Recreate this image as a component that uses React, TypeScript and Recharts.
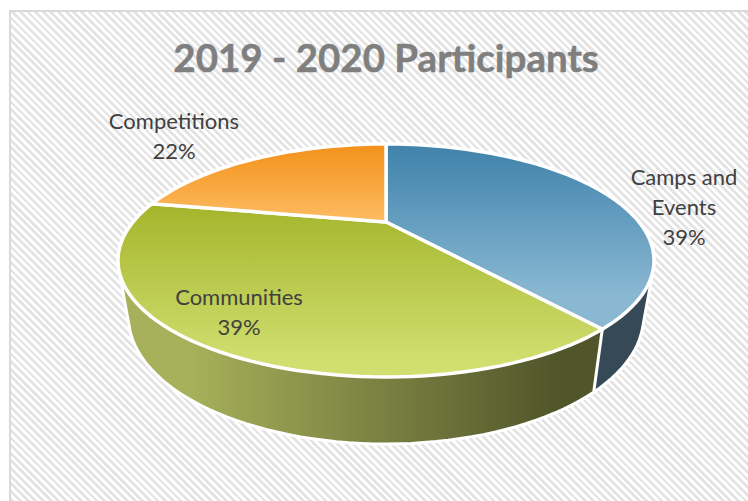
import { PieChart, Pie } from 'recharts';

const NAMES = ['Camps and Events', 'Communities', 'Competitions'];
const VALUES = [39, 39, 22];
const TOP_COLORS = [
    ['#3F82AB', '#8AB8D3'],
    ['#A4B52B', '#D1DF70'],
    ['#F3911A', '#FDBC62'],
];
const TOP_STOP_END = ['82%', '92%', '100%'];
const WALL_FILLS = ['#354957', 'url(#wallOlive)', '#8a5a14'];

// label lines and their anchor, one entry per slice
const LABEL_LINES = [['Camps and', 'Events', '39%'], ['Communities', '39%'], ['Competitions', '22%']];
const LABEL_ANCHORS = [[684, 185], [239, 305], [174, 129]];

const pieData = NAMES.map((name, i) => ({ name, value: VALUES[i], wall: WALL_FILLS[i], top: `url(#top${i})` }));

const CX = 386;
const TOP_FACE = { y: 222, a: 103.8, b: 253 };
const BOTTOM_FACE = { y: 275.5, a: 112.9, b: 243 };
const TILT = 0.33;

// perspective projection of a point on the round pie, theta is clockwise from 12 o'clock
const project = (theta: number, face: typeof TOP_FACE) => {
    const rad = (theta * Math.PI) / 180;
    const sx = Math.sin(rad);
    const sy = -Math.cos(rad);
    const d = 1 - TILT * sy;
    return [CX + (face.b * sx) / d, face.y + (face.a * sy) / d];
};

const arc = (from: number, to: number, face: typeof TOP_FACE) => {
    const pts: number[][] = [];
    const n = Math.max(2, Math.ceil(Math.abs(to - from) / 2));
    for (let i = 0; i <= n; i++) pts.push(project(from + ((to - from) * i) / n, face));
    return pts;
};

const toPath = (pts: number[][]) => 'M' + pts.map((p) => `${p[0].toFixed(1)},${p[1].toFixed(1)}`).join('L') + 'Z';

// the wall of a slice is the hull of its top and bottom arcs, the top face hides the rest
const hull = (input: number[][]) => {
    const pts = [...input].sort((p, q) => p[0] - q[0] || p[1] - q[1]);
    const cross = (o: number[], p: number[], q: number[]) =>
        (p[0] - o[0]) * (q[1] - o[1]) - (p[1] - o[1]) * (q[0] - o[0]);
    const half = (list: number[][]) => {
        const out: number[][] = [];
        for (const p of list) {
            while (out.length >= 2 && cross(out[out.length - 2], out[out.length - 1], p) <= 0) out.pop();
            out.push(p);
        }
        out.pop();
        return out;
    };
    return [...half(pts), ...half([...pts].reverse())];
};

const TopSlice = (props: any) => {
    const from = 90 - props.startAngle;
    const to = 90 - props.endAngle;
    const pts = [[CX, TOP_FACE.y], ...arc(from, to, TOP_FACE)];
    return <path d={toPath(pts)} fill={props.payload?.top ?? props.top} stroke="#fff" strokeWidth={3.5} strokeLinejoin="round" />;
};

const WallSlice = (props: any) => {
    const from = 90 - props.startAngle;
    const to = 90 - props.endAngle;
    const pts = hull([...arc(from, to, TOP_FACE), ...arc(from, to, BOTTOM_FACE)]);
    return <path d={toPath(pts)} fill={props.payload?.wall ?? props.wall} stroke="#fff" strokeWidth={3} strokeLinejoin="round" />;
};

const renderLabel = ({ index }: any) => {
    const [x, y] = LABEL_ANCHORS[index];
    return (
        <text key={index} x={x} y={y} textAnchor="middle" fontFamily="Lato" fontSize={22} fill="#404040">
            {LABEL_LINES[index].map((line, i) => (
                <tspan key={line} x={x} y={y + i * 30}>{line}</tspan>
            ))}
        </text>
    );
};

export default function App() {
    return (
        <div style={{ position: 'absolute', left: 0, top: 0, width: 748, height: 501, overflow: 'hidden', background: '#fff' }}>
            <div
                style={{
                    position: 'absolute',
                    left: 9,
                    top: 10,
                    width: 739,
                    height: 491,
                    boxSizing: 'border-box',
                    borderLeft: '2px solid #d9d9d9',
                    borderTop: '2px solid #d9d9d9',
                    backgroundImage: 'repeating-linear-gradient(45deg, #e4e4e4 0 2.7px, #fff 2.7px 5.4px)',
                }}
            />
            <div style={{ position: 'absolute', left: 0, top: 0 }}>
                <PieChart width={748} height={501} margin={{ top: 0, right: 0, bottom: 0, left: 0 }}>
                    <defs>
                        {TOP_COLORS.map((c, i) => (
                            <linearGradient key={i} id={`top${i}`} x1="0" y1="0" x2="0" y2="1">
                                <stop offset="0%" stopColor={c[0]} />
                                <stop offset={TOP_STOP_END[i]} stopColor={c[1]} />
                            </linearGradient>
                        ))}
                        <linearGradient id="wallOlive" gradientUnits="userSpaceOnUse" x1="190" y1="0" x2="560" y2="0">
                            <stop offset="0%" stopColor="#A7B05A" />
                            <stop offset="100%" stopColor="#50552A" />
                        </linearGradient>
                    </defs>
                    <text x={386} y={72} textAnchor="middle" fontFamily="Lato" fontWeight={700} fontSize={38.5} fill="#7f7f7f" stroke="#7f7f7f" strokeWidth={0.5}>
                        2019 - 2020 Participants
                    </text>
                    <Pie
                        data={pieData}
                        dataKey="value"
                        cx={CX}
                        cy={TOP_FACE.y}
                        outerRadius={100}
                        startAngle={90}
                        endAngle={-270}
                        stroke="none"
                        label={false}
                        labelLine={false}
                        isAnimationActive={false}
                        shape={WallSlice}
                    />
                    <Pie
                        data={pieData}
                        dataKey="value"
                        cx={CX}
                        cy={TOP_FACE.y}
                        outerRadius={100}
                        startAngle={90}
                        endAngle={-270}
                        stroke="none"
                        label={renderLabel}
                        labelLine={false}
                        isAnimationActive={false}
                        shape={TopSlice}
                    />
                </PieChart>
            </div>
        </div>
    );
}
